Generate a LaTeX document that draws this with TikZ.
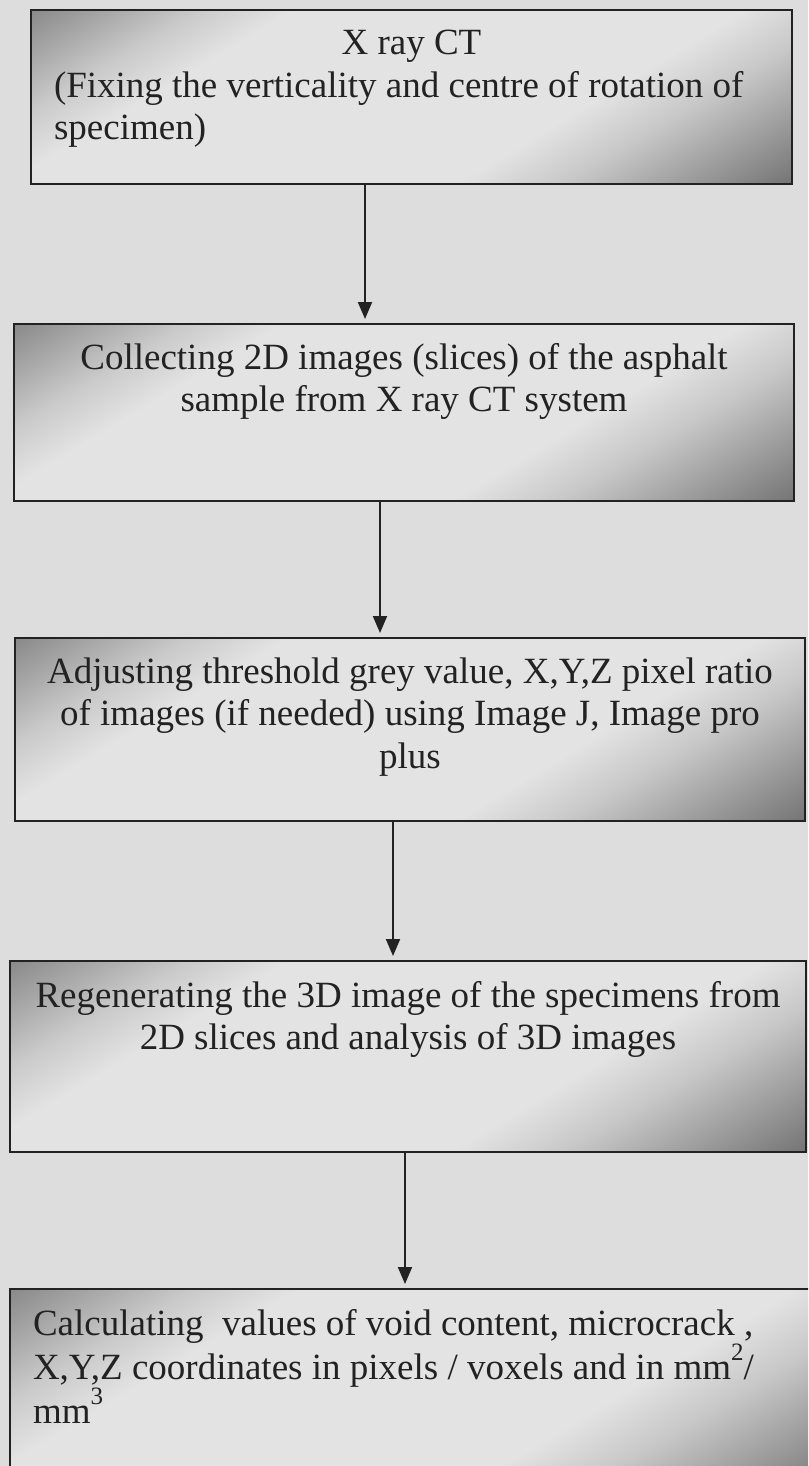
\documentclass[tikz,border=0pt]{standalone}
\usepackage{fontspec}
\setmainfont{Liberation Serif}
\usetikzlibrary{arrows.meta,calc}
\definecolor{dka}{HTML}{898989}
\definecolor{dkb}{HTML}{747474}
\definecolor{mda}{HTML}{A9A9A9}
\definecolor{mdb}{HTML}{A2A2A2}
\definecolor{mla}{HTML}{CACACA}
\definecolor{mlb}{HTML}{C8C8C8}
\definecolor{lt}{HTML}{E3E3E3}
\definecolor{bg}{HTML}{DDDDDD}
\definecolor{ink}{HTML}{222222}
\pgfdeclarehorizontalshading{boxshade}{100bp}{color(0bp)=(dka); color(25bp)=(dka); color(29bp)=(mda); color(33bp)=(mla); color(37.5bp)=(lt); color(59bp)=(lt); color(64bp)=(mlb); color(69bp)=(mdb); color(75bp)=(dkb); color(100bp)=(dkb)}
\newcommand{\shadebox}[3]{%
  \begin{scope}
  \clip (#1.north west) rectangle (#1.south east);
  \pgfmathsetmacro\shL{#2*cos(59)+#3*sin(59)}
  \begin{scope}[transform canvas={rotate around={-59:(#1.center)}}]
  \shade[shading=boxshade] ($(#1.center)+(-\shL/2,-1200)$) rectangle ($(#1.center)+(\shL/2,1200)$);
  \end{scope}
  \end{scope}}
\newcommand{\supnum}[1]{\raisebox{19pt}{\fontsize{25}{25}\selectfont #1}}
\begin{document}
\begin{tikzpicture}[x=1pt,y=-1pt,
  flowbox/.style={rectangle, draw=none, inner sep=0pt, outer sep=0pt},
  boxline/.style={draw=ink, line width=2pt},
  boxtext/.style={inner sep=0pt, outer sep=0pt, text=ink, font=\fontsize{37}{42.5}\selectfont},
  flowarrow/.style={draw=ink, line width=1.9pt, -{Triangle[length=17pt,width=14pt]}, shorten >=5pt}]
\useasboundingbox (0,0) rectangle (808,1466);
\clip (0,0) rectangle (808,1466);
\fill[bg] (0,0) rectangle (808,1466);
% boxes
\node[flowbox, minimum width=761pt, minimum height=174pt] (b1) at (411.5,97) {};
\node[flowbox, minimum width=780pt, minimum height=177pt] (b2) at (404,412.5) {};
\node[flowbox, minimum width=790pt, minimum height=183pt] (b3) at (410,729.5) {};
\node[flowbox, minimum width=796pt, minimum height=191pt] (b4) at (408,1056.5) {};
\node[flowbox, minimum width=820pt, minimum height=201pt] (b5) at (420,1389.5) {};
\shadebox{b1}{761}{174}
\shadebox{b2}{780}{177}
\shadebox{b3}{790}{183}
\shadebox{b4}{796}{191}
\shadebox{b5}{820}{201}
\foreach \b in {b1,b2,b3,b4,b5}
  \draw[boxline] (\b.north west) rectangle (\b.south east);
% texts
\node[boxtext, anchor=base west] (t1) at ($(b1.north west)+(23,45)$)
  {\parbox[t]{715pt}{\centering X ray CT\par\raggedright (Fixing the verticality and centre of rotation of\\ specimen)}};
\node[boxtext, anchor=base] (t2) at ($(b2.north)+(0,45)$)
  {\parbox[t]{770pt}{\centering Collecting 2D images (slices) of the asphalt\\ sample from X ray CT system}};
\node[boxtext, anchor=base] (t3) at ($(b3.north)+(0,45)$)
  {\parbox[t]{785pt}{\centering Adjusting threshold grey value, X,Y,Z pixel ratio\\ of images (if needed) using Image J, Image pro\\ plus}};
\node[boxtext, anchor=base] (t4) at ($(b4.north)+(0,46)$)
  {\parbox[t]{794pt}{\centering Regenerating the 3D image of the specimens from\\ 2D slices and analysis of 3D images}};
\node[boxtext, anchor=base west] (t5) at ($(b5.north west)+(23,46)$)
  {\parbox[t]{790pt}{\raggedright Calculating~ values of void content, microcrack ,\\ X,Y,Z coordinates in pixels / voxels and in mm\supnum{2}/\\ mm\supnum{3}}};
% arrows
\coordinate (a1) at (365,0);
\coordinate (a2) at (380,0);
\coordinate (a3) at (393,0);
\coordinate (a4) at (405,0);
\draw[flowarrow] (b1.south -| a1) -- (b2.north -| a1);
\draw[flowarrow] (b2.south -| a2) -- (b3.north -| a2);
\draw[flowarrow] (b3.south -| a3) -- (b4.north -| a3);
\draw[flowarrow] (b4.south -| a4) -- (b5.north -| a4);
\end{tikzpicture}
\end{document}
